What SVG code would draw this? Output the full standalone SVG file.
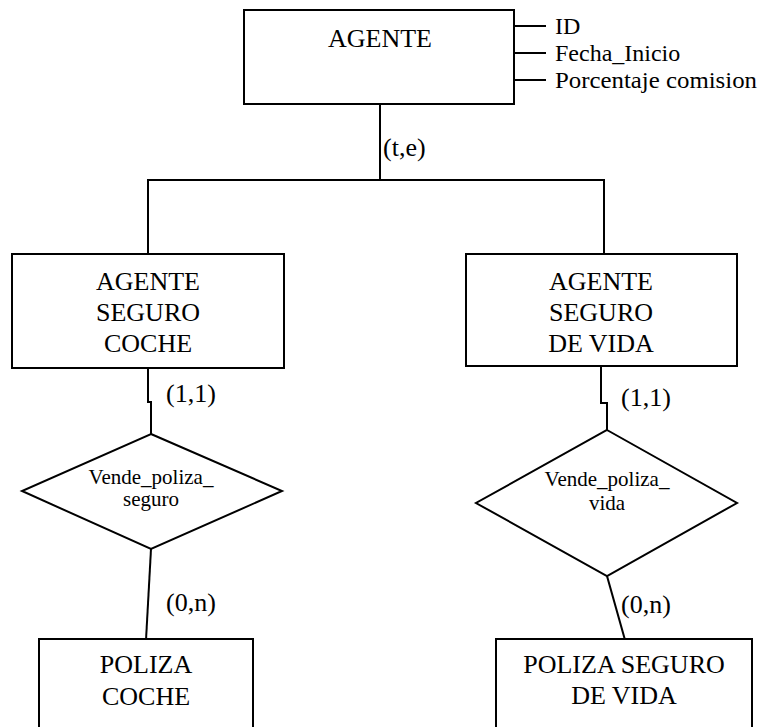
<svg xmlns="http://www.w3.org/2000/svg" width="762" height="727" viewBox="0 0 762 727">
<style>
.box{fill:#fff;stroke:#000;stroke-width:2}
.ln{fill:none;stroke:#000;stroke-width:2}
.t{font-size:26px;text-anchor:middle}
.a{font-size:24px}
.d{font-size:21px;text-anchor:middle}
.c{font-size:26px}
</style>
<rect width="762" height="727" fill="#fff"/>
<g font-family="'Liberation Serif', 'Times New Roman', Times, serif" fill="#000">
<g id="connectors">
<line class="ln" x1="514" y1="26" x2="546" y2="26"/>
<line class="ln" x1="514" y1="53" x2="546" y2="53"/>
<line class="ln" x1="514" y1="80" x2="546" y2="80"/>
<polyline class="ln" points="380,104 380,180"/>
<polyline class="ln" points="148,254 148,180 604,180 604,254"/>
<polyline class="ln" points="148,368 148,402 151,402 151,434"/>
<polyline class="ln" points="601,366 601,403 607,403 607,430"/>
<line class="ln" x1="151" y1="549" x2="146" y2="640"/>
<line class="ln" x1="607" y1="576" x2="625" y2="640"/>
<text class="c" x="383" y="156">(t,e)</text>
<text class="c" x="166" y="402">(1,1)</text>
<text class="c" x="621" y="406">(1,1)</text>
<text class="c" x="166" y="611">(0,n)</text>
<text class="c" x="621" y="613">(0,n)</text>
</g>
<g id="agente">
<rect class="box" x="244" y="10" width="270" height="94"/>
<text class="t" x="380" y="47">AGENTE</text>
</g>
<g id="attributes">
<text class="a" x="555" y="34">ID</text>
<text class="a" x="555" y="61">Fecha_Inicio</text>
<text class="a" x="555" y="88" textLength="202" lengthAdjust="spacingAndGlyphs">Porcentaje  comision</text>
</g>
<g id="agente-seguro-coche">
<rect class="box" x="12" y="254" width="272" height="114"/>
<text class="t" x="148" y="290">AGENTE</text>
<text class="t" x="148" y="321">SEGURO</text>
<text class="t" x="148" y="352">COCHE</text>
</g>
<g id="agente-seguro-vida">
<rect class="box" x="466" y="254" width="271" height="112"/>
<text class="t" x="601" y="290">AGENTE</text>
<text class="t" x="601" y="321">SEGURO</text>
<text class="t" x="601" y="352">DE VIDA</text>
</g>
<g id="vende-poliza-seguro">
<polygon class="box" points="151,434 282,491 151,549 22,491"/>
<text class="d" x="151" y="484">Vende_poliza_</text>
<text class="d" x="151" y="506">seguro</text>
</g>
<g id="vende-poliza-vida">
<polygon class="box" points="607,430 737,503 607,576 476,503"/>
<text class="d" x="607" y="486">Vende_poliza_</text>
<text class="d" x="607" y="510">vida</text>
</g>
<g id="poliza-coche">
<rect class="box" x="39" y="639" width="214" height="100"/>
<text class="t" x="146" y="673">POLIZA</text>
<text class="t" x="146" y="705">COCHE</text>
</g>
<g id="poliza-seguro-vida">
<rect class="box" x="496" y="639" width="256" height="100"/>
<text class="t" x="624" y="673">POLIZA SEGURO</text>
<text class="t" x="624" y="704">DE VIDA</text>
</g>
</g>
</svg>
